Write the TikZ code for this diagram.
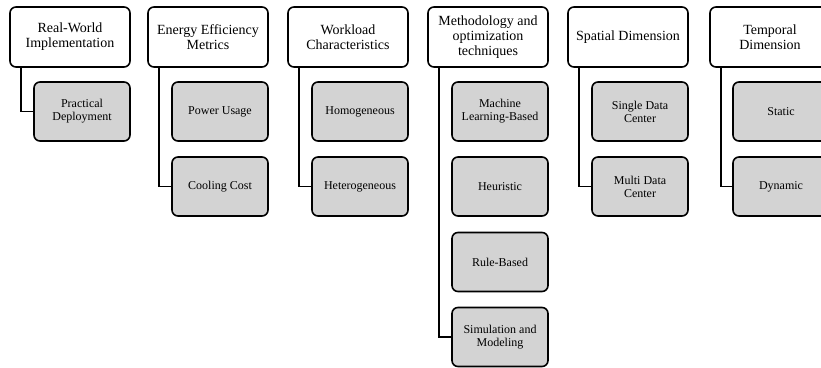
\documentclass[tikz,border=0pt]{standalone}
\usepackage{fontspec}
\setmainfont{Liberation Serif}
\definecolor{leafgray}{RGB}{211,211,211}
\begin{document}
\begin{tikzpicture}[x=1pt,y=-1pt,
  head/.style={draw=black, line width=1.6pt, rounded corners=6pt, fill=white,
    minimum width=120pt, minimum height=60pt, align=center, inner sep=2pt,
    font=\fontsize{14}{15}\selectfont},
  leaf/.style={draw=black, line width=1.6pt, rounded corners=6pt, fill=leafgray,
    minimum width=96pt, minimum height=59pt, align=center, inner sep=2pt,
    font=\fontsize{12}{13}\selectfont},
  link/.style={draw=black, line width=1.6pt}]
\useasboundingbox (0,0) rectangle (821,367);
\clip (0,0) rectangle (821,367);

% category headers
\node[head] (h1) at (70,37)  {Real-World\\Implementation};
\node[head] (h2) at (208,37) {Energy Efficiency\\Metrics};
\node[head] (h3) at (348,37) {Workload\\Characteristics};
\node[head] (h4) at (488,37) {Methodology and\\optimization\\techniques};
\node[head] (h5) at (628,37) {Spatial Dimension};
\node[head] (h6) at (770,37) {Temporal\\Dimension};

% sub-categories
\node[leaf] (a1) at (82,111.5)  {Practical\\Deployment};
\node[leaf] (b1) at (220,111.5) {Power Usage};
\node[leaf] (b2) at (220,186.5) {Cooling Cost};
\node[leaf] (c1) at (360,111.5) {Homogeneous};
\node[leaf] (c2) at (360,186.5) {Heterogeneous};
\node[leaf] (d1) at (500,111.5) {Machine\\Learning-Based};
\node[leaf] (d2) at (500,186.5) {Heuristic};
\node[leaf] (d3) at (500,262)   {Rule-Based};
\node[leaf] (d4) at (500,337)   {Simulation and\\Modeling};
\node[leaf] (e1) at (640,111.5) {Single Data\\Center};
\node[leaf] (e2) at (640,186.5) {Multi Data\\Center};
\node[leaf] (f1) at (781,111.5) {Static};
\node[leaf] (f2) at (781,186.5) {Dynamic};

% tree connectors: one spine per header, ending at its last child
\draw[link] ([xshift=12pt]h1.south west) |- (a1.west);
\draw[link] ([xshift=12pt]h2.south west) |- (b2.west);
\draw[link] ([xshift=12pt]h3.south west) |- (c2.west);
\draw[link] ([xshift=12pt]h4.south west) |- (d4.west);
\draw[link] ([xshift=12pt]h5.south west) |- (e2.west);
\draw[link] ([xshift=12pt]h6.south west) |- (f2.west);
\end{tikzpicture}
\end{document}
